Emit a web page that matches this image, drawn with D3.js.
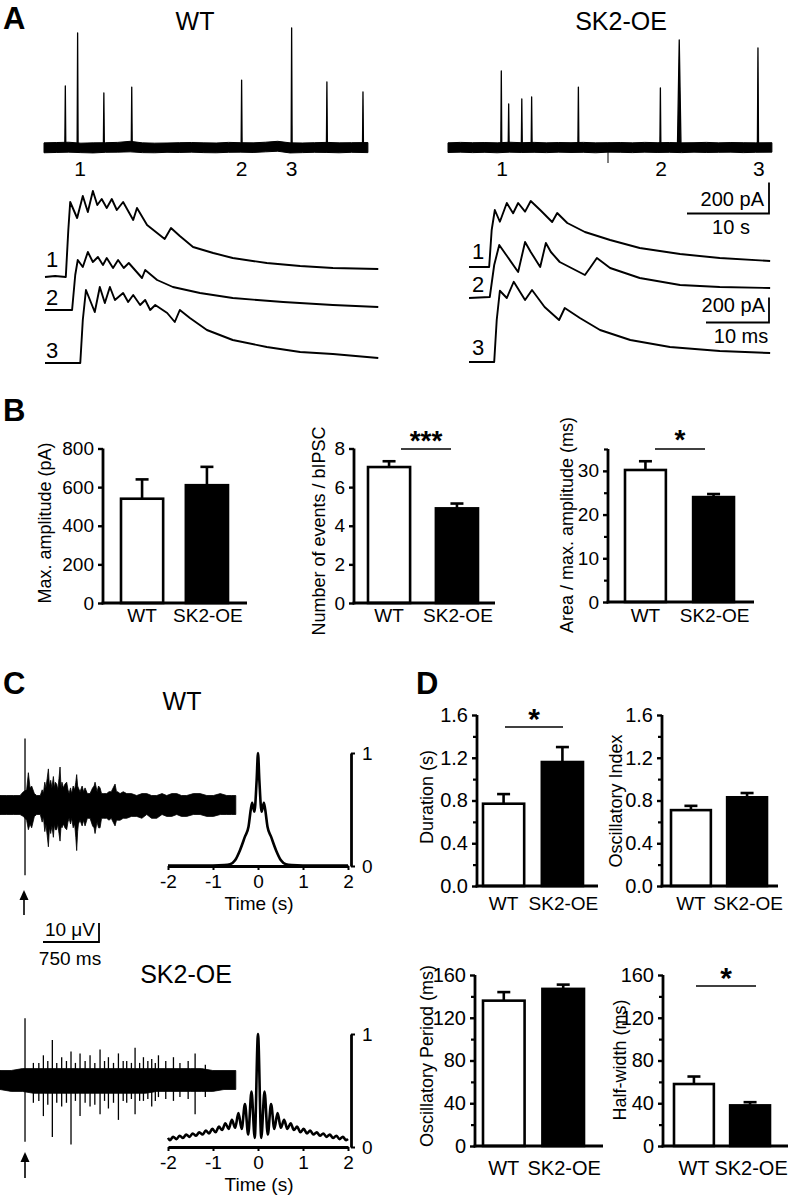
<!DOCTYPE html>
<html><head><meta charset="utf-8">
<script src="https://cdn.jsdelivr.net/npm/d3@7"></script>
<style>
body{margin:0;background:#fff}
svg{display:block}
text{font-family:"Liberation Sans",Arial,Helvetica,sans-serif;fill:#000}
</style>
</head><body>
<svg id="fig" width="788" height="1199"></svg>
<script>
// ================= DATA =================
const groups = ["WT", "SK2-OE"];

// Panel A – overview traces (time s, amplitude pA)
const overviewDuration = 39.5;
const wtSpikeTimes = [2.6, 4.1, 7.3, 10.7, 24.1, 30.2, 34.5, 38.9];
const wtSpikeAmps  = [397, 739, 352, 390, 435, 771, 423, 358];
const wtSpikeHalfW = [0.06, 0.06, 0.06, 0.06, 0.06, 0.06, 0.06, 0.06];
const skSpikeTimes = [6.5, 7.4, 9.0, 10.2, 15.9, 25.9, 28.2, 37.8];
const skSpikeAmps  = [494, 281, 313, 326, 390, 384, 694, 642];
const skSpikeHalfW = [0.06, 0.06, 0.06, 0.06, 0.06, 0.06, 0.22, 0.07];
const wtEventLabelTimes = [4.4, 24.1, 30.2];
const skEventLabelTimes = [6.6, 26.0, 37.9];
const overviewNoiseTime = [0,1.5,3,4.5,6,7.5,9,10.5,12,13.5,15,16.5,18,19.5,21,22.5,24,25.5,27,28.5,30,31.5,33,34.5,36,37.5,39.5];
const wtNoiseUpper = [30,32,34,28,30,31,33,40,30,28,29,31,32,30,29,33,31,30,34,40,30,29,31,33,30,31,32];
const wtNoiseLower = [-34,-32,-30,-33,-35,-31,-30,-28,-33,-34,-31,-32,-30,-33,-34,-31,-30,-32,-28,-24,-35,-33,-31,-32,-34,-31,-33];
const skNoiseUpper = [30,33,31,32,30,34,31,33,30,32,31,33,30,31,32,30,33,31,32,30,31,33,30,32,31,30,31];
const skNoiseLower = [-32,-30,-33,-31,-34,-30,-32,-31,-33,-30,-32,-31,-34,-30,-31,-33,-30,-32,-31,-33,-30,-32,-31,-30,-33,-31,-30];

// Panel A – single bIPSCs (time ms, amplitude pA)
const wtTrace1 = [[0,0],[1.6,8],[3.3,0],[3.7,376],[4.0,600],[5.1,472],[6.0,648],[6.8,520],[7.6,688],[8.3,576],[9.0,624],[9.8,552],[10.6,624],[11.4,536],[12.4,600],[14.0,456],[14.6,552],[16.2,416],[17.8,352],[19.0,304],[20.0,392],[21.4,328],[23.5,240],[26.7,192],[29.8,152],[35.2,112],[40.5,88],[45.7,72],[52.9,64]];
const wtTrace2 = [[0,0],[4.3,0],[4.8,280],[5.2,400],[6.0,344],[6.8,464],[7.6,384],[8.4,424],[9.2,360],[9.8,416],[10.8,336],[11.6,400],[12.5,336],[13.3,376],[15.4,256],[15.9,320],[17.8,240],[20.3,184],[24.6,136],[29.8,96],[37.8,64],[45.7,40],[52.9,24]];
const wtTrace3 = [[0,0],[5.6,0],[6.0,344],[6.5,584],[7.9,408],[8.7,608],[9.5,480],[10.3,608],[11.1,504],[12.4,560],[13.2,488],[14.0,544],[15.1,464],[15.9,504],[16.7,424],[17.5,464],[19.4,400],[20.6,328],[21.4,424],[23.0,360],[25.7,264],[29.8,184],[35.2,128],[40.5,88],[45.7,72],[52.9,40]];
const skTrace1 = [[0,0],[3.2,0],[3.6,296],[4.1,456],[4.9,362],[6.0,512],[7.0,430],[7.8,512],[8.9,443],[9.8,528],[11.3,456],[13.2,360],[14.0,432],[15.6,352],[18.4,280],[22.4,216],[27.1,152],[33.5,104],[39.8,72],[47.8,48]];
const skTrace2 = [[0,-8],[3.3,0],[4.0,256],[4.8,416],[6.0,330],[7.8,200],[8.9,440],[9.8,360],[11.3,240],[12.2,432],[13.0,360],[14.4,280],[18.4,176],[19.2,232],[20.3,312],[22.4,232],[27.1,152],[33.5,96],[39.8,80],[47.8,72]];
const skTrace3 = [[0,0],[4.0,0],[4.4,336],[4.9,570],[6.0,512],[7.1,642],[8.9,496],[10.0,576],[12.0,440],[14.3,336],[15.2,432],[17.6,352],[20.8,256],[25.6,176],[31.9,120],[39.8,88],[47.8,72]];

// Panel B – bar data (mean, SEM)
const maxAmpMean = [540, 610],  maxAmpSem = [100, 95];
const eventsMean = [7.04, 4.9], eventsSem = [0.3, 0.25];
const areaMean   = [30.2, 24.0], areaSem  = [2.0, 0.7];
const maxAmpTicks = [0, 200, 400, 600, 800];
const eventsTicks = [0, 2, 4, 6, 8];
const areaTicks = [0, 10, 20, 30], areaMinor = [5, 15, 25, 35];

// Panel C – field potentials (time ms, envelope µV)
const wtEegTime  = [0,90,180,268,313,357,380,402,424,460,491,540,565,581,600,615,632,648,662,679,695,715,728,740,759,775,790,804,818,830,849,870,893,910,925,945,960,980,1000,1015,1027,1040,1050,1072,1100,1120,1139,1170,1206,1240,1260,1273,1290,1300,1320,1340,1360,1385,1429,1460,1490,1515,1541,1560,1575,1608,1650,1697,1760,1831,1900,1965,2030,2099,2170,2233,2300,2367,2430,2501,2590,2680,2770,2858,2950,3037,3100,3158];
const wtEegUpper = [5,5,5,5,7,8,17,9,10,6,5,5,8,6,12,9,14,19,10,13,9,15,9,12,11,8,14,20,9,12,9,11,12,8,6,9,6,10,8,12,16,10,9,7,10,7,9,6,6,9,10,12,9,7,10,9,6,6,6,7,7,9,11,7,7,6,7,6,6,5,6,6,5,5,6,5,6,6,5,5,6,6,5,5,6,5,5,5];
const wtEegLower = [-5,-5,-5,-5,-6,-8,-13,-10,-12,-6,-5,-5,-9,-6,-14,-10,-16,-22,-12,-15,-11,-17,-10,-13,-13,-10,-15,-19,-11,-12,-10,-12,-13,-9,-7,-10,-7,-12,-10,-17,-24,-14,-10,-8,-11,-8,-11,-7,-7,-11,-12,-15,-11,-9,-12,-12,-7,-7,-7,-8,-7,-9,-11,-8,-8,-8,-7,-7,-6,-6,-7,-5,-7,-7,-5,-6,-6,-5,-6,-6,-5,-5,-6,-6,-5,-5,-5,-5];
const wtEegSpikeTime = [335], wtEegSpikeTop = [35], wtEegSpikeBottom = [-37];
const skEegTime  = [0,150,300,450,600,750,900,1050,1200,1350,1500,1650,1800,1950,2100,2250,2400,2550,2700,2850,3000,3158];
const skEegUpper = [5,5,6,6,6,6,6,6,6,6,6,6,6,6,6,6,6,6,6,5,5,5];
const skEegLower = [-5,-6,-6,-7,-7,-7,-7,-7,-7,-7,-7,-7,-7,-7,-6,-6,-6,-6,-6,-6,-5,-5];
const skEegSpikeTime   = [335,447,520,581,640,701,760,826,890,951,1010,1072,1140,1206,1270,1340,1400,1452,1520,1586,1650,1697,1760,1809,1870,1921,1980,2032,2080,2122,2220,2323,2410,2520,2613,2750];
const skEegSpikeTop    = [32.5,9,9,13,10,21,9,12,10,15,9,14,10,13,9,16,10,12,9,14,10,10,9,17,9,12,10,11,9,13,10,12,9,10,14,8];
const skEegSpikeBottom = [-32.5,-12,-11,-19,-13,-30,-12,-14,-12,-34,-11,-19,-12,-14,-13,-18,-11,-15,-12,-21,-11,-12,-10,-18,-11,-11,-10,-14,-11,-9,-10,-11,-9,-10,-18,-9];

// Panel C – autocorrelograms (lag s, normalised correlation)
const wtAcLag = [-2,-1.5,-1,-0.75,-0.62,-0.51,-0.4,-0.29,-0.21,-0.16,-0.13,-0.08,-0.03,0,0.03,0.08,0.13,0.16,0.21,0.29,0.4,0.51,0.62,0.75,1,1.5,2];
const wtAcVal = [0.005,0.005,0.005,0.008,0.015,0.05,0.14,0.26,0.35,0.5,0.56,0.48,0.76,1.0,0.76,0.48,0.56,0.5,0.35,0.26,0.14,0.05,0.015,0.008,0.005,0.005,0.005];
const skAcLag = [-2,-1.9575,-1.885,-1.8125,-1.74,-1.6675,-1.595,-1.5225,-1.45,-1.3775,-1.305,-1.2325,-1.16,-1.0875,-1.015,-0.9425,-0.87,-0.7975,-0.725,-0.6525,-0.58,-0.5075,-0.435,-0.3625,-0.29,-0.2175,-0.145,-0.0725,0,0.0725,0.145,0.2175,0.29,0.3625,0.435,0.5075,0.58,0.6525,0.725,0.7975,0.87,0.9425,1.015,1.0875,1.16,1.2325,1.305,1.3775,1.45,1.5225,1.595,1.6675,1.74,1.8125,1.885,1.9575,2];
const skAcVal = [0.08,0.06,0.09,0.07,0.10,0.08,0.11,0.09,0.12,0.10,0.13,0.11,0.145,0.12,0.16,0.13,0.18,0.15,0.21,0.16,0.24,0.17,0.30,0.16,0.38,0.11,0.49,0.08,1.0,0.08,0.49,0.11,0.38,0.16,0.30,0.17,0.24,0.16,0.21,0.15,0.18,0.13,0.16,0.12,0.145,0.11,0.13,0.10,0.12,0.09,0.11,0.08,0.10,0.07,0.09,0.06,0.07];
const acTicks = [-2, -1, 0, 1, 2];

// Panel D – bar data (mean, SEM)
const durationMean = [0.77, 1.16], durationSem = [0.09, 0.14];
const oscIndexMean = [0.71, 0.83], oscIndexSem = [0.04, 0.04];
const oscPeriodMean = [136, 147], oscPeriodSem = [8, 4];
const halfWidthMean = [58, 38],   halfWidthSem = [7, 3];
const indexTicks = [0, 0.4, 0.8, 1.2, 1.6], indexMinor = [0.2, 0.6, 1.0, 1.4];
const periodTicks = [0, 40, 80, 120, 160], periodMinor = [20, 60, 100, 140];

// ================= DRAWING =================
const svg = d3.select("#fig");
const FONT = '"Liberation Sans", Arial, Helvetica, sans-serif';

function txt(g, x, y, s, o = {}) {
  let tr = `translate(${x},${y})`;
  if (o.sx && o.sx !== 1) tr += ` scale(${o.sx},1)`;
  if (o.rotate) tr += ` rotate(${o.rotate})`;
  return g.append("text").attr("transform", tr)
    .attr("text-anchor", o.anchor || "middle")
    .attr("font-size", o.size || 19)
    .attr("font-weight", o.weight || "normal")
    .attr("dy", o.dy || null)
    .text(s);
}

// panel letters
txt(svg, 3, 29, "A", {size: 31, weight: "bold", anchor: "start"});
txt(svg, 3, 421, "B", {size: 31, weight: "bold", anchor: "start"});
txt(svg, 3, 694, "C", {size: 31, weight: "bold", anchor: "start"});
txt(svg, 416, 694, "D", {size: 31, weight: "bold", anchor: "start"});

// ---- Panel A titles
txt(svg, 195, 30, "WT", {size: 25});
txt(svg, 621, 30, "SK2-OE", {size: 25});

// ---- Overview traces
function drawOverview(x0, times, amps, halfW, nU, nL, labelTimes) {
  const x = d3.scaleLinear().domain([0, overviewDuration]).range([x0, x0 + overviewDuration * 8.2]);
  const y = d3.scaleLinear().domain([0, 200]).range([147.5, 116.5]);
  const g = svg.append("g");
  const band = overviewNoiseTime.map((t, i) => [t, nU[i], nL[i]]);
  g.append("path").datum(band)
    .attr("d", d3.area().x(d => x(d[0])).y0(d => y(d[2])).y1(d => y(d[1])).curve(d3.curveLinear))
    .attr("fill", "#000").attr("stroke", "#000").attr("stroke-width", 1);
  g.selectAll("path.spk").data(times).join("path").attr("class", "spk")
    .attr("d", (t, i) => `M${x(t - halfW[i])},${y(0)}L${x(t)},${y(amps[i])}L${x(t + halfW[i])},${y(0)}Z`)
    .attr("fill", "#000").attr("stroke", "#000").attr("stroke-width", 1.3).attr("stroke-linejoin", "round");
  labelTimes.forEach((t, i) => txt(svg, x(t), 176, String(i + 1), {size: 21}));
  return {x, y};
}
const ovWT = drawOverview(44, wtSpikeTimes, wtSpikeAmps, wtSpikeHalfW, wtNoiseUpper, wtNoiseLower, wtEventLabelTimes);
const ovSK = drawOverview(448, skSpikeTimes, skSpikeAmps, skSpikeHalfW, skNoiseUpper, skNoiseLower, skEventLabelTimes);
// stimulus marker
svg.append("line").attr("x1", 608).attr("x2", 608).attr("y1", 152).attr("y2", 163).attr("stroke", "#000").attr("stroke-width", 1);

// overview scale bar (10 s / 200 pA)
{
  const bx = 769, by = 213.5;
  const lenX = ovSK.x(10) - ovSK.x(0), lenY = ovSK.y(0) - ovSK.y(200);
  svg.append("path").attr("d", `M${bx - lenX},${by}H${bx}V${by - lenY}`)
    .attr("fill", "none").attr("stroke", "#000").attr("stroke-width", 1.8);
  txt(svg, 764, 206, "200 pA", {size: 20, anchor: "end"});
  txt(svg, 731, 234, "10 s", {size: 20});
}

// ---- Single bIPSC traces
const trX = d3.scaleLinear().domain([0, 10]).range([0, 63]);
const trY = d3.scaleLinear().domain([0, 200]).range([0, -25]);
function drawTrace(x0, base, data) {
  const line = d3.line().x(d => x0 + trX(d[0])).y(d => base + trY(d[1]));
  svg.append("path").datum(data).attr("d", line)
    .attr("fill", "none").attr("stroke", "#000").attr("stroke-width", 1.9).attr("stroke-linejoin", "round");
}
drawTrace(45, 277, wtTrace1);
drawTrace(45, 310, wtTrace2);
drawTrace(45, 363, wtTrace3);
drawTrace(469, 267, skTrace1);
drawTrace(469, 297, skTrace2);
drawTrace(469, 362, skTrace3);
txt(svg, 52, 267, "1", {size: 22});
txt(svg, 52, 305, "2", {size: 22});
txt(svg, 52, 358, "3", {size: 22});
txt(svg, 478, 259, "1", {size: 22});
txt(svg, 478, 292, "2", {size: 22});
txt(svg, 478, 355, "3", {size: 22});
{
  const bx = 769, by = 322.5;
  const lenX = trX(10) - trX(0), lenY = trY(0) - trY(200);
  svg.append("path").attr("d", `M${bx - lenX},${by}H${bx}V${by - lenY}`)
    .attr("fill", "none").attr("stroke", "#000").attr("stroke-width", 1.8);
  txt(svg, 765, 312, "200 pA", {size: 20, anchor: "end"});
  txt(svg, 741, 343, "10 ms", {size: 20});
}

// ---- Bar charts
function barChart(c) {
  const g = svg.append("g");
  const y = d3.scaleLinear().domain([0, c.max]).range([c.zeroY, c.topY]);
  const x = d3.scaleBand().domain(groups).range([c.barL, c.barR]).paddingInner(c.pad).paddingOuter(0);
  const bw = x.bandwidth();
  g.selectAll("rect").data(groups).join("rect")
    .attr("x", d => x(d)).attr("width", bw)
    .attr("y", (d, i) => y(c.means[i])).attr("height", (d, i) => y(0) - y(c.means[i]))
    .attr("fill", (d, i) => i === 0 ? "#fff" : "#000")
    .attr("stroke", "#000").attr("stroke-width", 2.6);
  groups.forEach((d, i) => {
    const cx = x(d) + bw / 2;
    g.append("line").attr("x1", cx).attr("x2", cx)
      .attr("y1", y(c.means[i])).attr("y2", y(c.means[i] + c.sems[i]))
      .attr("stroke", "#000").attr("stroke-width", 2.6);
    g.append("line").attr("x1", cx - 6.5).attr("x2", cx + 6.5)
      .attr("y1", y(c.means[i] + c.sems[i])).attr("y2", y(c.means[i] + c.sems[i]))
      .attr("stroke", "#000").attr("stroke-width", 2.6);
  });
  const ax = g.append("g").attr("transform", `translate(${c.axisX},0)`)
    .call(d3.axisLeft(y).tickValues(c.ticks).tickSize(5).tickSizeOuter(0).tickPadding(4).tickFormat(c.fmt));
  ax.attr("font-family", FONT).attr("font-size", c.tickSize);
  ax.select(".domain").attr("stroke-width", 2.8).attr("d", `M0,${y(0) + 1.4}V${c.topY}`);
  ax.selectAll(".tick line").attr("stroke-width", 2.4);
  if (c.minor && c.minor.length) {
    const mx = g.append("g").attr("transform", `translate(${c.axisX},0)`)
      .call(d3.axisLeft(y).tickValues(c.minor).tickSize(4).tickFormat(""));
    mx.select(".domain").remove();
    mx.selectAll(".tick line").attr("stroke-width", 2.2);
  }
  g.append("line").attr("x1", c.axisX - 1.4).attr("x2", c.axisEnd)
    .attr("y1", y(0)).attr("y2", y(0)).attr("stroke", "#000").attr("stroke-width", 2.8);
  groups.forEach(d => txt(g, x(d) + bw / 2 + (d === "WT" ? 0 : 1), c.labelY, d, {size: c.labelSize}));
  txt(g, c.titleX, c.titleY, c.title, {size: 18, rotate: -90, dy: "0.35em"});
  if (c.sig) {
    g.append("line").attr("x1", c.sig.x1).attr("x2", c.sig.x2).attr("y1", c.sig.y).attr("y2", c.sig.y)
      .attr("stroke", "#000").attr("stroke-width", 1.5);
    txt(g, (c.sig.x1 + c.sig.x2) / 2, c.sig.y + c.sig.dy, c.sig.label, {size: c.sig.size, weight: "bold"});
  }
}

barChart({axisX: 103, axisEnd: 247, zeroY: 603, topY: 448.5, max: 800, barL: 121, barR: 228, pad: 0.35,
  means: maxAmpMean, sems: maxAmpSem, ticks: maxAmpTicks, minor: [], fmt: d3.format("d"), tickSize: 19,
  labelY: 622, labelSize: 19, title: "Max. amplitude (pA)", titleX: 45, titleY: 523});
barChart({axisX: 354, axisEnd: 495, zeroY: 603, topY: 448.5, max: 8, barL: 368, barR: 478, pad: 0.38,
  means: eventsMean, sems: eventsSem, ticks: eventsTicks, minor: [], fmt: d3.format("d"), tickSize: 19,
  labelY: 622, labelSize: 19, title: "Number of events / bIPSC", titleX: 319, titleY: 531,
  sig: {x1: 401, x2: 451, y: 449, label: "***", size: 28, dy: 1}});
barChart({axisX: 608, axisEnd: 754, zeroY: 602, topY: 449, max: 35, barL: 625, barR: 734, pad: 0.4,
  means: areaMean, sems: areaSem, ticks: areaTicks, minor: areaMinor, fmt: d3.format("d"), tickSize: 19,
  labelY: 622, labelSize: 19, title: "Area / max. amplitude (ms)", titleX: 567, titleY: 525,
  sig: {x1: 655, x2: 705, y: 449, label: "*", size: 28, dy: 0}});

barChart({axisX: 477, axisEnd: 598, zeroY: 886, topY: 715, max: 1.6, barL: 483, barR: 583, pad: 0.3,
  means: durationMean, sems: durationSem, ticks: indexTicks, minor: indexMinor, fmt: d3.format(".1f"), tickSize: 20,
  labelY: 910, labelSize: 19, title: "Duration (s)", titleX: 427, titleY: 797,
  sig: {x1: 505, x2: 563, y: 727, label: "*", size: 30, dy: 2}});
barChart({axisX: 662, axisEnd: 778, zeroY: 886, topY: 715, max: 1.6, barL: 671, barR: 767, pad: 0.29,
  means: oscIndexMean, sems: oscIndexSem, ticks: indexTicks, minor: indexMinor, fmt: d3.format(".1f"), tickSize: 20,
  labelY: 910, labelSize: 19, title: "Oscillatory Index", titleX: 616, titleY: 801});
barChart({axisX: 475, axisEnd: 603, zeroY: 1146, topY: 975, max: 160, barL: 483, barR: 584, pad: 0.3,
  means: oscPeriodMean, sems: oscPeriodSem, ticks: periodTicks, minor: periodMinor, fmt: d3.format("d"), tickSize: 20,
  labelY: 1175, labelSize: 20, title: "Oscillatory Period (ms)", titleX: 427, titleY: 1056});
barChart({axisX: 663, axisEnd: 788, zeroY: 1146, topY: 975, max: 160, barL: 674, barR: 770, pad: 0.29,
  means: halfWidthMean, sems: halfWidthSem, ticks: periodTicks, minor: periodMinor, fmt: d3.format("d"), tickSize: 20,
  labelY: 1175, labelSize: 20, title: "Half-width (ms)", titleX: 620, titleY: 1060,
  sig: {x1: 696, x2: 756, y: 986, label: "*", size: 30, dy: 2}});

// ---- Panel C
txt(svg, 182, 710, "WT", {size: 25});
txt(svg, 186, 983, "SK2-OE", {size: 25});

const eegX = d3.scaleLinear().domain([0, 750]).range([0, 56]);
function drawEeg(center, t, up, lo, sT, sTop, sBot) {
  const y = d3.scaleLinear().domain([0, 10]).range([center, center - 19]);
  const data = t.map((v, i) => [v, up[i], lo[i]]);
  svg.append("path").datum(data)
    .attr("d", d3.area().x(d => eegX(d[0])).y0(d => y(d[2])).y1(d => y(d[1])))
    .attr("fill", "#000").attr("stroke", "#000").attr("stroke-width", 0.8);
  sT.forEach((s, i) => {
    svg.append("line").attr("x1", eegX(s)).attr("x2", eegX(s))
      .attr("y1", y(sTop[i])).attr("y2", y(sBot[i]))
      .attr("stroke", "#000").attr("stroke-width", 1.3);
  });
  return y;
}
const eegYwt = drawEeg(805, wtEegTime, wtEegUpper, wtEegLower, wtEegSpikeTime, wtEegSpikeTop, wtEegSpikeBottom);
drawEeg(1080, skEegTime, skEegUpper, skEegLower, skEegSpikeTime, skEegSpikeTop, skEegSpikeBottom);

function arrow(x, tipY, endY) {
  svg.append("line").attr("x1", x).attr("x2", x).attr("y1", tipY + 6).attr("y2", endY)
    .attr("stroke", "#000").attr("stroke-width", 1.6);
  svg.append("path").attr("d", `M${x},${tipY}L${x - 4.5},${tipY + 10}L${x + 4.5},${tipY + 10}Z`).attr("fill", "#000");
}
arrow(24, 890, 915);
arrow(25, 1152, 1178);

{
  const bx = 99, by = 942;
  const lenX = eegX(750) - eegX(0), lenY = eegYwt(0) - eegYwt(10);
  svg.append("path").attr("d", `M${bx - lenX},${by}H${bx}V${by - lenY}`)
    .attr("fill", "none").attr("stroke", "#000").attr("stroke-width", 1.8);
  txt(svg, 95, 936, "10 μV", {size: 19, anchor: "end"});
  txt(svg, 70, 965, "750 ms", {size: 19});
}

function drawAcorr(zeroY, lags, vals) {
  const x = d3.scaleLinear().domain([-2, 2]).range([168, 348]);
  const y = d3.scaleLinear().domain([0, 1]).range([zeroY, zeroY - 113]);
  const g = svg.append("g");
  const xa = g.append("g").attr("transform", `translate(0,${zeroY})`)
    .call(d3.axisBottom(x).tickValues(acTicks).tickSize(4).tickSizeOuter(0).tickPadding(5).tickFormat(d3.format("d")));
  xa.attr("font-family", FONT).attr("font-size", 19);
  xa.select(".domain").attr("stroke-width", 2.8);
  xa.selectAll(".tick line").attr("stroke-width", 2);
  xa.selectAll(".tick text").text(d => d < 0 ? "-" + Math.abs(d) : d);
  const ya = g.append("g").attr("transform", `translate(351,0)`)
    .call(d3.axisRight(y).tickValues([0, 1]).tickSize(4).tickSizeOuter(0).tickPadding(7).tickFormat(d3.format("d")));
  ya.attr("font-family", FONT).attr("font-size", 19);
  ya.select(".domain").attr("stroke-width", 2.8);
  ya.selectAll(".tick line").attr("stroke-width", 2);
  const data = lags.map((l, i) => [l, vals[i]]);
  g.append("path").datum(data)
    .attr("d", d3.line().x(d => x(d[0])).y(d => y(d[1])).curve(d3.curveMonotoneX))
    .attr("fill", "none").attr("stroke", "#000").attr("stroke-width", 2.6).attr("stroke-linejoin", "round");
  txt(g, 259, zeroY + 44, "Time (s)", {size: 19});
}
drawAcorr(866, wtAcLag, wtAcVal);
drawAcorr(1147, skAcLag, skAcVal);
</script>
</body></html>
